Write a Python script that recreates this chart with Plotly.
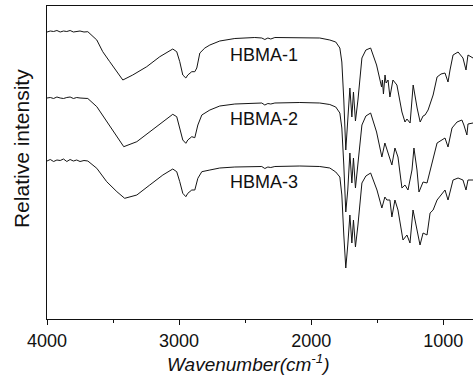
import plotly.graph_objects as go

# ---- data (arbitrary intensity units) ----
wn_1 = [4000, 3975, 3950, 3925, 3900, 3875, 3850, 3825, 3800, 3775, 3750, 3720, 3691,
        3623, 3578, 3525, 3471, 3426, 3351, 3245, 3146, 3048, 3018, 2995, 2972, 2949,
        2934, 2904, 2881, 2866, 2843, 2805, 2767, 2692, 2578, 2427, 2374, 2351, 2328,
        2306, 2275, 2086, 1935, 1859, 1814, 1783, 1768, 1753, 1738, 1723, 1707, 1692,
        1680, 1665, 1646, 1616, 1586, 1550, 1505, 1467, 1461, 1453, 1441, 1433, 1418,
        1404, 1381, 1351, 1313, 1290, 1275, 1251, 1228, 1198, 1175, 1153, 1138, 1115,
        1077, 1047, 1017, 987, 964, 949, 926, 888, 866, 851, 828, 813, 775]
hbma_1 = [287, 288, 287.5, 288.5, 287, 288, 287.5, 288.5, 287, 287.5, 288, 287, 287.3,
          279, 267.3, 257.3, 247.3, 239, 244, 252.3, 262.3, 270, 267.3, 257.3, 244, 241,
          244, 247.3, 247.3, 251, 266, 271, 274, 278, 280.5, 281.5, 281, 279.5, 281,
          280, 281.5, 281.5, 281, 279, 277, 271, 257, 219, 169, 199, 231, 202,
          227, 198, 219, 261, 269, 271, 254, 232, 239, 225, 244, 236, 239,
          222, 239, 234, 207, 197, 200, 196, 234, 211, 197, 203, 204, 209,
          224, 242, 245, 246, 237, 249, 264, 267, 264, 261, 249, 264, 261]

wn_2 = [4000, 3975, 3950, 3925, 3900, 3875, 3850, 3825, 3800, 3775, 3750, 3720, 3691,
        3623, 3548, 3471, 3419, 3320, 3222, 3123, 3048, 3018, 2995, 2972, 2949, 2934,
        2904, 2881, 2858, 2828, 2767, 2692, 2578, 2427, 2374, 2351, 2328, 2306, 2275,
        2086, 1935, 1859, 1814, 1783, 1768, 1753, 1738, 1723, 1707, 1692, 1680, 1665,
        1646, 1616, 1586, 1550, 1505, 1480, 1465, 1442, 1427, 1389, 1366, 1343, 1313,
        1290, 1267, 1237, 1222, 1199, 1184, 1153, 1123, 1100, 1047, 987, 964, 934,
        896, 859, 844, 821, 813, 775]
hbma_2 = [221, 221.5, 220.5, 222, 221, 220.5, 221.5, 222, 220.5, 221.5, 221, 220.5, 220.5,
          212.3, 197.3, 182.3, 172.3, 177.3, 187.3, 197.3, 204.7, 202.3, 191, 179, 175.7, 179,
          182.3, 181.3, 194, 204, 209, 213, 215, 216, 216, 214, 215.5, 215, 216,
          216.5, 216, 214.5, 212, 206, 191, 154, 107, 129, 166, 136, 161, 131,
          154, 194, 203, 206, 187, 172, 162, 176, 169, 154, 171, 162, 131,
          134, 129, 149, 171, 149, 127, 137, 136, 149, 176, 181, 172, 191,
          197, 199, 194, 184, 195, 196]

wn_3 = [4000, 3975, 3950, 3925, 3900, 3875, 3850, 3825, 3800, 3775, 3750, 3720, 3691,
        3623, 3548, 3471, 3412, 3320, 3222, 3123, 3048, 3018, 2995, 2972, 2949, 2934,
        2904, 2881, 2858, 2828, 2767, 2692, 2578, 2427, 2374, 2351, 2328, 2306, 2275,
        2086, 1935, 1859, 1814, 1783, 1768, 1753, 1738, 1723, 1707, 1692, 1680, 1665,
        1646, 1616, 1586, 1550, 1502, 1465, 1442, 1427, 1404, 1389, 1366, 1343, 1305,
        1275, 1252, 1229, 1207, 1176, 1153, 1123, 1100, 1077, 1047, 987, 964, 926,
        888, 851, 828, 813, 775]
hbma_3 = [158, 159.5, 157.5, 159, 158.5, 160, 157.5, 159.5, 158, 159, 157.5, 158.5, 158,
          150.7, 137.3, 127.3, 120.7, 124, 134, 144, 150, 147.3, 137.3, 125.7, 122.3, 125.7,
          129, 129, 140.7, 147.3, 149, 151, 152, 152.5, 152.5, 150.5, 152, 151.5, 152.5,
          153, 152.5, 151, 147, 142, 124, 84, 51, 74, 104, 76, 99, 72,
          94, 136, 143, 146, 129, 111, 122, 119, 119, 102, 119, 109, 79,
          84, 76, 109, 94, 74, 86, 84, 106, 109, 119, 129, 119, 139,
          141, 139, 129, 139, 139]

series_names = ["HBMA-1", "HBMA-2", "HBMA-3"]
x_tick_vals = [4000, 3000, 2000, 1000]

fig = go.Figure()
for name, xs, ys in [(series_names[0], wn_1, hbma_1),
                     (series_names[1], wn_2, hbma_2),
                     (series_names[2], wn_3, hbma_3)]:
    fig.add_trace(go.Scatter(x=xs, y=ys, mode="lines", name=name,
                             line=dict(color="#151515", width=1)))

font_family = "Liberation Sans, Arial, Helvetica, sans-serif"

label_y = [264, 200.5, 137.5]
for name, ly in zip(series_names, label_y):
    fig.add_annotation(x=2631, y=ly, xref="x", yref="y", text=name,
                       showarrow=False, xanchor="left", yanchor="middle",
                       font=dict(family=font_family, size=18, color="#111"))

fig.add_annotation(x=0.472, y=-0.142, xref="paper", yref="paper",
                   text="<i>Wavenumber(cm<sup>-1</sup>)</i>", showarrow=False,
                   xanchor="center", yanchor="middle", borderpad=0,
                   font=dict(family=font_family, size=19, color="#111"))
fig.add_annotation(x=-0.061, y=0.543, xref="paper", yref="paper",
                   text="Relative intensity", showarrow=False, textangle=-90,
                   xanchor="center", yanchor="middle",
                   font=dict(family=font_family, size=21, color="#111"))

fig.update_layout(
    width=473, height=375,
    margin=dict(l=47, r=0, t=6, b=56),
    paper_bgcolor="white", plot_bgcolor="white",
    showlegend=False,
    xaxis=dict(range=[4000, 775], tickvals=x_tick_vals,
               ticktext=[str(v) for v in x_tick_vals],
               ticks="outside", ticklen=5, tickwidth=1, tickcolor="#111",
               minor=dict(tickvals=[3500, 2500, 1500], ticks="outside",
                          ticklen=3, tickwidth=1, tickcolor="#111"),
               showline=True, linecolor="#111", linewidth=1.2, mirror=True,
               showgrid=False, zeroline=False,
               tickfont=dict(family=font_family, size=18, color="#111")),
    yaxis=dict(range=[0, 313], showticklabels=False, ticks="",
               showline=True, linecolor="#111", linewidth=1.2, mirror=False,
               showgrid=False, zeroline=False),
)

fig.write_html("out.html",
               config={"displayModeBar": False, "staticPlot": True},
               post_script="document.body.style.margin='0';document.body.style.overflow='hidden';")
